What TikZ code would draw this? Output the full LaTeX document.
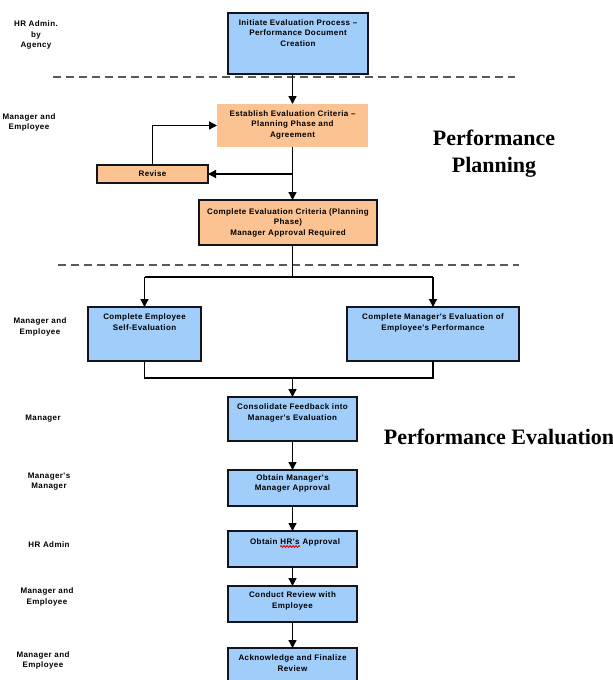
\documentclass[tikz,border=0pt]{standalone}
\usepackage{fontspec}
\setmainfont{Liberation Sans}
\newfontfamily\lblfont[LetterSpace=5]{Liberation Sans}
\newfontfamily\headfont{Liberation Serif}
\usetikzlibrary{arrows.meta,decorations.pathmorphing}
\definecolor{stepblue}{RGB}{160,205,250}
\definecolor{steporange}{RGB}{250,195,145}
\definecolor{boxline}{RGB}{20,20,30}

\begin{document}
\begin{tikzpicture}[x=1pt,y=-1pt,
  box/.style={anchor=north west, inner sep=0, outer sep=0, draw=boxline, line width=1.8pt},
  bluebox/.style={box, fill=stepblue},
  orangebox/.style={box, fill=steporange},
  plainorange/.style={anchor=north west, inner sep=0, outer sep=0, fill=steporange},
  boxtext/.style={font={\lblfont\bfseries\fontsize{8}{10.5}\selectfont}, align=center, inner sep=0, anchor=north},
  wordtext/.style={font={\lblfont\bfseries\fontsize{8}{10.5}\selectfont}, inner sep=0},
  rolelabel/.style={font={\lblfont\bfseries\fontsize{8}{10.5}\selectfont}, align=center, inner sep=0},
  headline/.style={font={\headfont\bfseries\fontsize{22}{27}\selectfont}, align=center, inner sep=0},
  conn/.style={line width=1.3pt, draw=black},
  flow/.style={conn, -{Triangle[length=8pt,width=8pt]}},
  divider/.style={line width=2.2pt, dash pattern=on 8pt off 5pt, draw=black!65},
  spellmark/.style={draw=red!85!black, line width=0.8pt, decorate,
    decoration={zigzag, segment length=3pt, amplitude=1pt}}
]
\useasboundingbox (0,0) rectangle (613,680);
\clip (0,0) rectangle (613,680);

% swim-lane dividers
\draw[divider] (53,77) -- (515,77);
\draw[divider] (58,265) -- (519,265);

% process steps
\node[bluebox, minimum width=140, minimum height=61] (init) at (228,13) {};
\node[plainorange, minimum width=151, minimum height=43] (est) at (217,104) {};
\node[orangebox, minimum width=111, minimum height=18] (revise) at (97,165) {};
\node[orangebox, minimum width=178, minimum height=45] (crit) at (199,200) {};
\node[bluebox, minimum width=113, minimum height=54] (self) at (88,307) {};
\node[bluebox, minimum width=172, minimum height=54] (mgr) at (347,307) {};
\node[bluebox, minimum width=129, minimum height=44] (cons) at (228,397) {};
\node[bluebox, minimum width=129, minimum height=36] (mm) at (228,470) {};
\node[bluebox, minimum width=129, minimum height=36] (hr) at (228,531) {};
\node[bluebox, minimum width=129, minimum height=36] (cond) at (228,586) {};
\node[bluebox, minimum width=129, minimum height=45] (ack) at (228,648) {};

% step captions
\node[boxtext] (initT) at ([yshift=-6.5pt]init.north) {Initiate Evaluation Process –\\Performance Document\\Creation};
\node[boxtext] (estT) at ([yshift=-6.5pt]est.north) {Establish Evaluation Criteria –\\Planning Phase and\\Agreement};
\node[wordtext] (reviseT) at (revise.center) {Revise};
\node[boxtext] (critT) at ([yshift=-8.5pt]crit.north) {Complete Evaluation Criteria (Planning\\Phase)\\Manager Approval Required};
\node[boxtext] (selfT) at ([yshift=-6.5pt]self.north) {Complete Employee\\Self-Evaluation};
\node[boxtext] (mgrT) at ([yshift=-6.5pt]mgr.north) {Complete Manager's Evaluation of\\Employee's Performance};
\node[boxtext] (consT) at ([yshift=-6.5pt]cons.north) {Consolidate Feedback into\\Manager's Evaluation};
\node[boxtext] (mmT) at ([yshift=-4pt]mm.north) {Obtain Manager's\\Manager Approval};
\node[wordtext, anchor=base] (hrword) at (290,544.5) {HR's};
\node[wordtext, anchor=base east] (hrpre) at ([xshift=-2.6pt]hrword.base west) {Obtain};
\node[wordtext, anchor=base west] (hrpost) at ([xshift=2.6pt]hrword.base east) {Approval};
\draw[spellmark] ([yshift=-2pt]hrword.base west) -- ([yshift=-2pt]hrword.base east);
\node[boxtext] (condT) at ([yshift=-5.5pt]cond.north) {Conduct Review with\\Employee};
\node[boxtext] (ackT) at ([yshift=-6.5pt]ack.north) {Acknowledge and Finalize\\Review};

% roles
\node[rolelabel] (r1) at (36,35) {HR Admin.\\by\\Agency};
\node[rolelabel] (r2) at (29,122.5) {Manager and\\Employee};
\node[rolelabel] (r3) at (40,327) {Manager and\\Employee};
\node[rolelabel] (r4) at (43,419) {Manager};
\node[rolelabel] (r5) at (49,481.5) {Manager's\\Manager};
\node[rolelabel] (r6) at (49,545) {HR Admin};
\node[rolelabel] (r7) at (47,597) {Manager and\\Employee};
\node[rolelabel] (r8) at (43,660.5) {Manager and\\Employee};

% phase headings
\node[headline] (planH) at (494,153.5) {Performance\\Planning};
\node[headline, anchor=base] (evalH) at (499,444) {Performance Evaluation};

% junction points
\coordinate (fork) at (est.south |- revise.east);
\coordinate (split) at (292.5,277);
\coordinate (merge) at (292.5,378);

% connectors
\draw[flow] (init.south -| est.north) -- (est.north);
\draw[conn] (est.south) -- (fork);
\draw[flow] (fork) -- (est.south |- crit.north);
\draw[flow] (fork) -- (revise.east);
\draw[flow] (revise.north) -- (revise.north |- est.west) -- (est.west);
\draw[conn] (est.south |- crit.south) -- (split);
\draw[conn] (split -| self.north) -- (split -| mgr.north);
\draw[flow] (split -| self.north) -- (self.north);
\draw[flow] (split -| mgr.north) -- (mgr.north);
\draw[conn] (self.south) -- (merge -| self.south) -- (merge -| mgr.south) -- (mgr.south);
\draw[flow] (merge) -- (cons.north);
\draw[flow] (cons.south) -- (mm.north);
\draw[flow] (mm.south) -- (hr.north);
\draw[flow] (hr.south) -- (cond.north);
\draw[flow] (cond.south) -- (ack.north);
\end{tikzpicture}
\end{document}
